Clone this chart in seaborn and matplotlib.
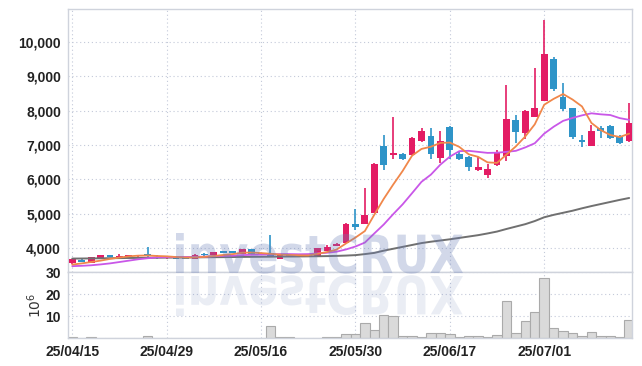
import matplotlib
matplotlib.use("Agg")
import numpy as np
import pandas as pd
import matplotlib.pyplot as plt
import seaborn as sns
import matplotlib.transforms as mtransforms
from matplotlib.textpath import TextPath
from matplotlib.patches import PathPatch
from matplotlib.font_manager import FontProperties
from matplotlib.ticker import FuncFormatter

# trading days (yy/mm/dd)
dates = [
    "25/04/15", "25/04/16", "25/04/17", "25/04/18", "25/04/21", "25/04/22", "25/04/23", "25/04/24",
    "25/04/25", "25/04/28", "25/04/29", "25/04/30", "25/05/02", "25/05/07", "25/05/08", "25/05/09",
    "25/05/12", "25/05/13", "25/05/14", "25/05/15", "25/05/16", "25/05/19", "25/05/20", "25/05/21",
    "25/05/22", "25/05/23", "25/05/26", "25/05/27", "25/05/28", "25/05/29", "25/05/30", "25/06/02",
    "25/06/04", "25/06/05", "25/06/09", "25/06/10", "25/06/11", "25/06/12", "25/06/13", "25/06/16",
    "25/06/17", "25/06/18", "25/06/19", "25/06/20", "25/06/23", "25/06/24", "25/06/25", "25/06/26",
    "25/06/27", "25/06/30", "25/07/01", "25/07/02", "25/07/03", "25/07/04", "25/07/07", "25/07/08",
    "25/07/09", "25/07/10", "25/07/11", "25/07/14",
]

open_ = [3565, 3660, 3580, 3720, 3810, 3750, 3760, 3765, 3830, 3760,
         3710, 3750, 3740, 3700, 3825, 3800, 3920, 3915, 3840, 3985,
         3850, 3870, 3700, 3760, 3800, 3795, 3775, 3930, 4067, 4165,
         4705, 4705, 5035, 6970, 6720, 6740, 6720, 7107, 7262, 6625,
         7530, 6740, 6660, 6275, 6140, 6410, 6680, 7725, 7360, 7820,
         8290, 9510, 8405, 8070, 7145, 6975, 7480, 7545, 7220, 7110]
high = [3700, 3680, 3760, 3800, 3815, 3830, 3805, 3810, 4040, 3800,
        3760, 3760, 3750, 3820, 3860, 3895, 3925, 3920, 3975, 3990,
        3870, 4380, 3830, 3820, 3810, 3805, 4020, 4090, 4150, 4720,
        5130, 5740, 6470, 7280, 7800, 6760, 7230, 7495, 7495, 7400,
        7540, 6790, 6680, 6640, 6450, 6855, 8750, 7860, 8020, 9240,
        10620, 9550, 8790, 8080, 7280, 7590, 7560, 7570, 7290, 8225]
low = [3550, 3590, 3570, 3710, 3750, 3740, 3755, 3760, 3740, 3690,
       3700, 3680, 3690, 3695, 3780, 3795, 3850, 3850, 3835, 3830,
       3810, 3740, 3690, 3750, 3770, 3765, 3770, 3920, 4060, 4150,
       4530, 4690, 5030, 6270, 6585, 6560, 6710, 7080, 6600, 6470,
       6590, 6560, 6255, 6250, 6045, 6400, 6525, 7050, 7165, 7800,
       8270, 8575, 7995, 7165, 6950, 6960, 7205, 7180, 7040, 7100]
close = [3680, 3600, 3740, 3790, 3760, 3770, 3800, 3800, 3770, 3720,
         3750, 3690, 3700, 3810, 3790, 3885, 3860, 3855, 3965, 3840,
         3820, 3760, 3825, 3810, 3780, 3775, 4010, 4045, 4125, 4700,
         4627, 4977, 6450, 6430, 6775, 6600, 7205, 7415, 6740, 7125,
         6855, 6600, 6350, 6370, 6315, 6776, 7765, 7380, 8000, 8070,
         9630, 8640, 8055, 7220, 7088, 7400, 7400, 7195, 7050, 7630]

ma5 = [3525, 3560, 3600, 3640, 3690, 3730, 3765, 3785, 3790, 3775,
       3765, 3745, 3730, 3735, 3750, 3775, 3805, 3830, 3870, 3875,
       3860, 3840, 3815, 3805, 3795, 3790, 3840, 3890, 3960, 4140,
       4310, 4500, 4975, 5435, 5850, 6245, 6690, 6885, 6950, 7060,
       7070, 6945, 6730, 6655, 6495, 6480, 6720, 6960, 7250, 7600,
       8170, 8340, 8480, 8320, 8120, 7640, 7430, 7290, 7230, 7330]
ma10 = [3480, 3490, 3505, 3530, 3560, 3600, 3640, 3680, 3710, 3735,
        3740, 3745, 3745, 3750, 3755, 3770, 3780, 3785, 3800, 3810,
        3815, 3820, 3830, 3830, 3825, 3830, 3850, 3870, 3900, 3965,
        4050, 4165, 4430, 4690, 4990, 5275, 5600, 5930, 6140, 6430,
        6660, 6820, 6830, 6800, 6770, 6775, 6800, 6830, 6930, 7050,
        7330, 7530, 7700, 7785, 7860, 7920, 7890, 7870, 7780, 7730]
ma60 = [3700, 3702, 3705, 3708, 3711, 3714, 3717, 3720, 3722, 3725,
        3728, 3730, 3732, 3735, 3738, 3740, 3742, 3745, 3748, 3750,
        3752, 3755, 3758, 3760, 3762, 3765, 3768, 3772, 3778, 3787,
        3800, 3830, 3865, 3930, 3985, 4040, 4095, 4150, 4190, 4225,
        4260, 4300, 4340, 4380, 4430, 4485, 4560, 4630, 4700, 4790,
        4900, 4970, 5030, 5090, 5160, 5225, 5285, 5345, 5405, 5460]

# volume in millions of shares
volume = [0.3, 0.2, 0.3, 0.2, 0.2, 0.2, 0.1, 0.2, 1.0, 0.2,
          0.1, 0.2, 0.1, 0.2, 0.2, 0.2, 0.2, 0.1, 0.2, 0.2,
          0.2, 5.3, 0.6, 0.3, 0.1, 0.1, 0.2, 0.3, 0.3, 2.0,
          1.7, 6.6, 3.8, 10.3, 9.9, 0.7, 0.7, 0.4, 2.3, 2.3,
          1.7, 0.4, 0.9, 0.9, 0.4, 1.4, 16.6, 2.3, 7.9, 12.0,
          27.2, 4.7, 3.2, 2.3, 0.9, 2.8, 0.9, 0.9, 0.4, 8.4]

price_ticks = [4000, 5000, 6000, 7000, 8000, 9000, 10000]
volume_ticks = [10, 20, 30]

df = pd.DataFrame({"date": dates, "open": open_, "high": high, "low": low,
                   "close": close, "ma5": ma5, "ma10": ma10, "ma60": ma60,
                   "volume": volume})
df["idx"] = np.arange(len(df))

UP = "#e31c64"
DOWN = "#2e94c8"
GRID = "#c3c9d9"
SPINE = "#cfd3dc"

sns.set_style("white")
plt.rcParams["font.family"] = ["Liberation Sans", "DejaVu Sans"]

fig = plt.figure(figsize=(6.42, 3.66), dpi=100)
ax = fig.add_axes([68 / 642, 1 - 272 / 366, 564 / 642, 263 / 366])
axv = fig.add_axes([68 / 642, 1 - 338 / 366, 564 / 642, 66 / 366])

# candles
colors = np.where(df["close"] >= df["open"], UP, DOWN)
ax.vlines(df["idx"], df["low"], df["high"], colors=colors, linewidth=1.2, zorder=2)
ax.bar(df["idx"], (df["close"] - df["open"]).abs().clip(lower=25),
       bottom=np.minimum(df["open"], df["close"]), width=0.72,
       color=colors, linewidth=0, zorder=3)

# moving averages
sns.lineplot(data=df, x="idx", y="ma60", color="#707070", linewidth=1.4, ax=ax, zorder=4)
sns.lineplot(data=df, x="idx", y="ma10", color="#c957e8", linewidth=1.3, ax=ax, zorder=4)
sns.lineplot(data=df, x="idx", y="ma5", color="#f0874a", linewidth=1.3, ax=ax, zorder=5)

# volume
sns.barplot(data=df, x="idx", y="volume", native_scale=True, width=1.0,
            color="#dadada", edgecolor="#aaaaaa", linewidth=0.8, saturation=1, ax=axv)

xlim = (-0.45, 59.3)
for a in (ax, axv):
    a.set_xlim(*xlim)
    a.set_xticks(df["idx"][::10])
    a.grid(True, color=GRID, linestyle=(0, (1, 2.5)), linewidth=0.8)
    a.set_axisbelow(True)
    for s in a.spines.values():
        s.set_color(SPINE)
        s.set_linewidth(1.0)
    a.tick_params(length=0, labelsize=10, colors="#222222", pad=5)
    a.set_xlabel("")
    a.set_ylabel("")

ax.set_ylim(3310, 10950)
ax.set_yticks(price_ticks)
ax.yaxis.set_major_formatter(FuncFormatter(lambda v, p: f"{int(v):,}"))
ax.set_xticklabels([])

axv.set_ylim(0, 30)
axv.set_yticks(volume_ticks)
axv.set_xticklabels(df["date"][::10])
axv.set_ylabel(r"$10^6$", fontsize=10, color="#333333", labelpad=1)

for lab in ax.get_yticklabels() + axv.get_yticklabels() + axv.get_xticklabels():
    lab.set_fontweight("bold")

# watermark with reflection
fp = FontProperties(family="DejaVu Sans", weight="bold")
tp = TextPath((0, 0), "investCRUX", size=1, prop=fp)
ext = tp.get_extents()
sx = (287 / 642) / ext.width
sy = (40 / 366) / ext.ymax
wm = mtransforms.Affine2D().translate(-ext.xmin, 0).scale(sx, sy).translate(176 / 642, 1 - 273 / 366)
fig.patches.append(PathPatch(wm.transform_path(tp), facecolor=(0.42, 0.50, 0.72), alpha=0.3,
                             edgecolor="none", transform=fig.transFigure, zorder=6))
rf = mtransforms.Affine2D().translate(-ext.xmin, 0).scale(sx, -sy).translate(176 / 642, 1 - 276 / 366)
fig.patches.append(PathPatch(rf.transform_path(tp), facecolor=(0.42, 0.50, 0.72), alpha=0.14,
                             edgecolor="none", transform=fig.transFigure, zorder=6))

fig.savefig("out.png", dpi=100)
plt.close(fig)
